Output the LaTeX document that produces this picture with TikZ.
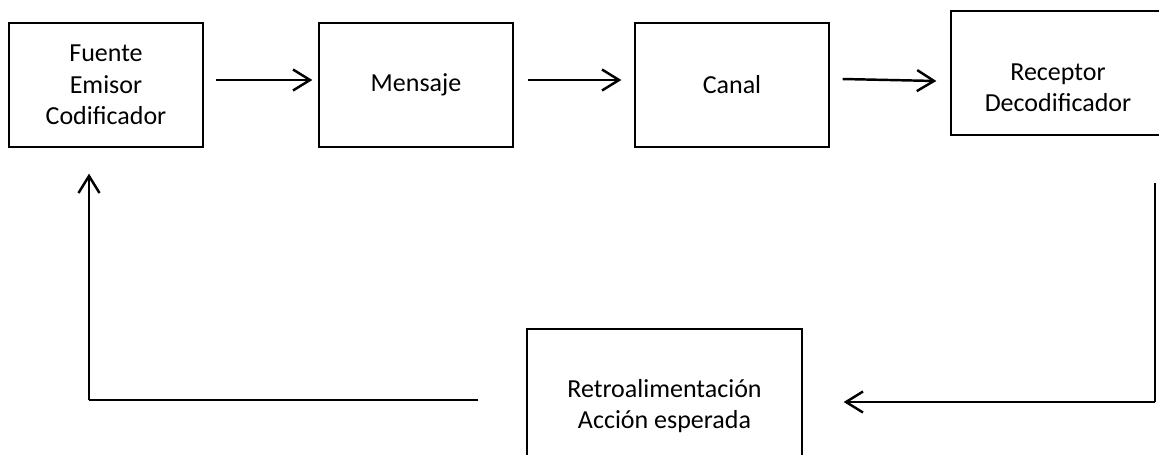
\documentclass[tikz,border=0pt]{standalone}
\usepackage{fontspec}
\setmainfont{Carlito}
\usepackage{tikz}
\usetikzlibrary{calc}
\usetikzlibrary{arrows.meta}

\begin{document}
\begin{tikzpicture}[caja/.style={draw,line width=0.75pt,minimum width=3.88cm,minimum height=2.48cm,align=center,inner sep=0pt},
  flecha/.style={line width=1.4pt,-{Straight Barb[length=0.34cm,width=0.42cm,line width=1.4pt]}},
  linea/.style={line width=1.4pt},
  font=\fontsize{14.8}{17.9}\selectfont]
  %\draw[help lines] (0,-9) grid (23,0);
  \clip (0,0) rectangle (23.18,-9.08);

  \draw ( 2.12,-1.70) node[caja](fue) {Fuente\\Emisor\\Codificador};
  \draw ( 8.32,-1.70) node[caja](men) {Mensaje};
  \draw (14.64,-1.70) node[caja](can) {Canal};
  \draw (21.16,-1.46) node[caja,minimum width=4.28cm](rec) {};
  \draw (21.16,-1.76) node[align=center](rectxt) {Receptor\\Decodificador};

  \draw (13.29,-8.12) node[caja,minimum width=5.5cm,minimum height=3.08cm](ret) {Retroalimentación\\Acción esperada};

  \draw[flecha] ([xshift=0.24cm,yshift=0.10cm]fue.east) -- ([xshift=-0.12cm,yshift=0.10cm]men.west);
  \draw[flecha] ([xshift=0.28cm,yshift=0.10cm]men.east) -- ([xshift=-0.26cm,yshift=0.10cm]can.west);
  \draw[flecha] ([xshift=0.26cm,yshift=0.12cm]can.east) -- ([xshift=-0.28cm,yshift=-0.16cm]rec.west);

  \coordinate (d1) at (23.10,-3.66);
  \coordinate (d2) at (23.10,-8.04);
  \draw[linea] (d1) -- (d2);
  \draw[flecha] (d2) -- ([xshift=0.82cm]ret.east |- d2);

  \coordinate (i1) at (1.78,-8.00);
  \draw[linea] ([xshift=-0.96cm]ret.west |- i1) -- (i1);
  \draw[flecha] (i1) -- ([xshift=-0.34cm,yshift=-0.52cm]fue.south);

\end{tikzpicture}
\end{document}
